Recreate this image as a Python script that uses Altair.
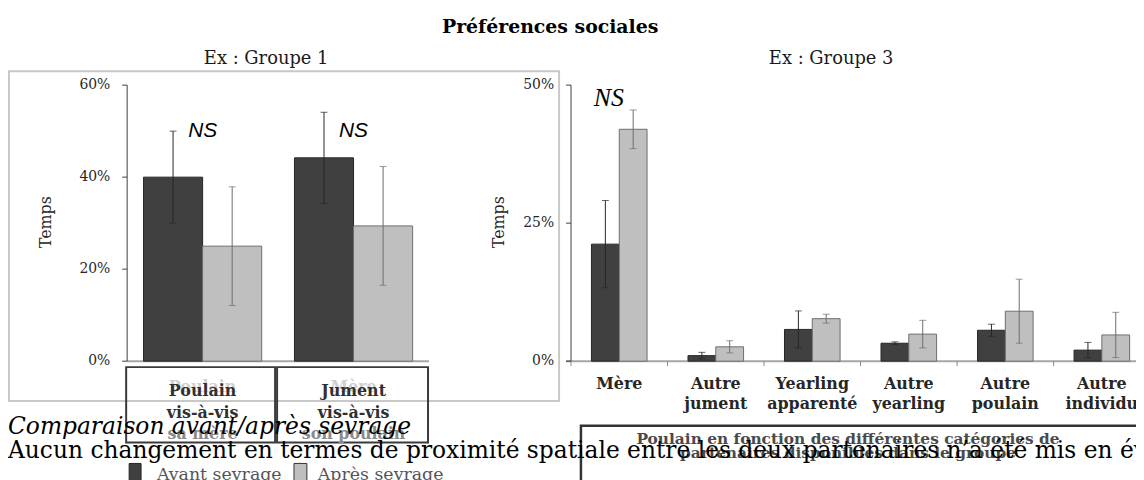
import altair as alt
import pandas as pd

# ---------------- data ----------------
groups = ["Avant sevrage", "Après sevrage"]

left_categories = ["Poulain", "Jument"]
left_avant = [40.0, 44.2]
left_avant_err = [10.0, 9.9]
left_apres = [25.0, 29.4]
left_apres_err = [12.9, 12.9]
left_ticks = [0, 20, 40, 60]
left_box_lines = [["Poulain", "vis-à-vis", "sa mère"], ["Jument", "vis-à-vis", "son poulain"]]
left_ghost = ["Poulain", "Mère"]

right_categories = ["Mère", "Autre jument", "Yearling apparenté", "Autre yearling",
                    "Autre poulain", "Autre individu"]
right_labels = ["Mère", "Autre\njument", "Yearling\napparenté", "Autre\nyearling",
                "Autre\npoulain", "Autre\nindividu"]
right_avant = [21.2, 1.0, 5.75, 3.25, 5.6, 2.0]
right_avant_err = [7.9, 0.6, 3.35, 0.25, 1.1, 1.4]
right_apres = [42.0, 2.6, 7.7, 4.9, 9.05, 4.75]
right_apres_err = [3.5, 1.1, 0.8, 2.5, 5.8, 4.1]
right_ticks = [0, 25, 50]

W, H = 1136, 472
SERIF = "DejaVu Serif"
FILL = ["#404040", "#bfbfbf"]
EDGE = ["#262626", "#6e6e6e"]


def make_df(cats, avant, avant_err, apres, apres_err):
    rows = []
    for i, c in enumerate(cats):
        rows.append(dict(cat=c, grp=groups[0], v=avant[i], err=avant_err[i]))
        rows.append(dict(cat=c, grp=groups[1], v=apres[i], err=apres_err[i]))
    df = pd.DataFrame(rows)
    df["lo"] = df["v"] - df["err"]
    df["hi"] = df["v"] + df["err"]
    return df


def panel(df, cats, xrange, pin, pout, ydom, yrange, ticks, lab_x, tick_x, cap):
    xs = alt.X("cat:N", sort=cats,
               scale=alt.Scale(domain=cats, range=xrange, paddingInner=pin, paddingOuter=pout),
               axis=None)
    xo = alt.XOffset("grp:N", sort=groups,
                     scale=alt.Scale(domain=groups, paddingInner=0, paddingOuter=0))

    def ys(f):
        return alt.Y(f"{f}:Q", scale=alt.Scale(domain=ydom, range=yrange, nice=False, zero=True),
                     axis=None)

    fill = alt.Fill("grp:N", scale=alt.Scale(domain=groups, range=FILL), legend=None)
    stroke = alt.Stroke("grp:N", scale=alt.Scale(domain=groups, range=EDGE), legend=None)
    color = alt.Color("grp:N", scale=alt.Scale(domain=groups, range=EDGE), legend=None)
    base = alt.Chart(df)
    bars = base.mark_bar(strokeWidth=1).encode(x=xs, xOffset=xo, y=ys("v"), fill=fill, stroke=stroke)
    err = base.mark_rule(strokeWidth=1).encode(x=xs, xOffset=xo, y=ys("lo"), y2="hi:Q", stroke=stroke)
    cap_hi = base.mark_tick(thickness=1, size=cap, orient="horizontal").encode(
        x=xs, xOffset=xo, y=ys("hi"), color=color)
    cap_lo = base.mark_tick(thickness=1, size=cap, orient="horizontal").encode(
        x=xs, xOffset=xo, y=ys("lo"), color=color)

    tdf = pd.DataFrame({"t": ticks, "lab": [f"{t}%" for t in ticks]})
    tb = alt.Chart(tdf)
    tlab = tb.mark_text(align="right", baseline="middle", font=SERIF, fontSize=14,
                        color="#262626").encode(y=ys("t"), x=alt.value(lab_x), text="lab:N")
    tmark = tb.mark_rule(color="#404040", strokeWidth=1).encode(
        y=ys("t"), x=alt.value(tick_x - 5), x2=alt.value(tick_x))
    adf = pd.DataFrame({"a": [min(ticks)], "b": [max(ticks)]})
    aline = alt.Chart(adf).mark_rule(color="#404040", strokeWidth=1).encode(
        y=ys("a"), y2="b:Q", x=alt.value(tick_x))
    return alt.layer(bars, err, cap_hi, cap_lo, tlab, tmark, aline), xs


def txt(text, x, y, size, weight="normal", style="normal", color="#000000", font=SERIF,
        align="left", baseline="alphabetic", angle=0):
    kw = dict(font=font, fontSize=size, fontWeight=weight, fontStyle=style, color=color,
              align=align, baseline=baseline)
    if angle:
        kw["angle"] = angle
    return alt.Chart(pd.DataFrame({"t": [text]})).mark_text(**kw).encode(
        x=alt.value(x), y=alt.value(y), text="t:N")


def rect(x, x2, y, y2, stroke, sw, fill=None):
    kw = dict(stroke=stroke, strokeWidth=sw)
    if fill is None:
        kw["fillOpacity"] = 0
        kw["fill"] = "white"
    else:
        kw["fill"] = fill
    return alt.Chart(pd.DataFrame({"k": [0]})).mark_rect(**kw).encode(
        x=alt.value(x), x2=alt.value(x2), y=alt.value(y), y2=alt.value(y2))


def hline(x, x2, y, color, sw):
    return alt.Chart(pd.DataFrame({"k": [0]})).mark_rule(color=color, strokeWidth=sw).encode(
        x=alt.value(x), x2=alt.value(x2), y=alt.value(y))


left_df = make_df(left_categories, left_avant, left_avant_err, left_apres, left_apres_err)
right_df = make_df(right_categories, right_avant, right_avant_err, right_apres, right_apres_err)

left_panel, left_x = panel(left_df, left_categories, [120, 424], 0.217, 0.1085, [0, 60], [354, 76],
                           left_ticks, 103, 120, 7)
right_panel, right_x = panel(right_df, right_categories, [567, 1150.2], 0.424, 0.212, [0, 50],
                             [354, 76], right_ticks, 550, 567, 7)

# category labels / NS through the band scales
left_ns = alt.Chart(pd.DataFrame({"cat": left_categories, "t": ["NS", "NS"]})).mark_text(
    font="Liberation Sans", fontStyle="italic", fontSize=21, baseline="middle", color="#000000"
).encode(x=left_x, y=alt.value(122), text="t:N")

lb = pd.DataFrame({"cat": left_categories, "ghost": left_ghost,
                   "l1": [l[0] for l in left_box_lines],
                   "l2": [l[1] for l in left_box_lines],
                   "l3": [l[2] for l in left_box_lines]})
lbase = alt.Chart(lb)
ghost = lbase.mark_text(font=SERIF, fontWeight="bold", fontSize=16, color="#d0d0d0").encode(
    x=left_x, y=alt.value(380), text="ghost:N")
l1 = lbase.mark_text(font=SERIF, fontWeight="bold", fontSize=16, color="#303030").encode(
    x=left_x, y=alt.value(384), text="l1:N")
l2 = lbase.mark_text(font=SERIF, fontWeight="bold", fontSize=16, color="#303030").encode(
    x=left_x, y=alt.value(406), text="l2:N")
l3 = lbase.mark_text(font=SERIF, fontWeight="bold", fontSize=16, color="#8a8a8a").encode(
    x=left_x, y=alt.value(427), text="l3:N")

rlab = alt.Chart(pd.DataFrame({"cat": right_categories, "lab": right_labels})).mark_text(
    font=SERIF, fontWeight="bold", fontSize=16, color="#262626", lineBreak="\n", lineHeight=20,
    baseline="alphabetic").encode(x=right_x, y=alt.value(382), text="lab:N")

bounds = alt.Chart(pd.DataFrame({"b": list(range(len(right_categories) + 1))})).mark_rule(
    color="#8c8c8c", strokeWidth=1).encode(
    x=alt.X("b:Q", scale=alt.Scale(domain=[0, len(right_categories)], range=[567, 1150.2]),
            axis=None),
    y=alt.value(354), y2=alt.value(359))

layers = [
    rect(1, 555, 62, 394, "#c8c8c8", 2),
    hline(120, 424, 354, "#a6a6a6", 2),
    hline(562, 1136, 354, "#a6a6a6", 2),
    bounds,
    left_panel,
    right_panel,
    left_ns,
    txt("NS", 605, 89, 26, style="italic", font="Liberation Serif", align="center",
        baseline="middle"),
    rlab,
    txt("Préférences sociales", 546, 24, 19, weight="bold", align="center"),
    txt("Ex : Groupe 1", 260, 55, 18, align="center", color="#1a1a1a"),
    txt("Ex : Groupe 3", 829, 55, 18, align="center", color="#1a1a1a"),
    txt("Temps", 38, 214, 16, align="center", baseline="middle", angle=270, color="#262626"),
    txt("Temps", 495, 214, 16, align="center", baseline="middle", angle=270, color="#262626"),
    rect(119, 269, 360, 436, "#3a3a3a", 2),
    rect(271, 423, 360, 436, "#3a3a3a", 2),
    ghost, l1, l2, l3,
    rect(577, 1160, 419, 520, "#333333", 2.5),
    txt("Poulain en fonction des différentes catégories de", 846, 437, 15.5, weight="bold",
        align="center", color="#4a4a4a"),
    txt("partenaires disponibles dans le groupe", 846, 452, 15.5, weight="bold",
        align="center", color="#4a4a4a"),
    rect(122, 134, 457, 480, "#222222", 1, fill="#404040"),
    rect(288, 301, 457, 480, "#333333", 1, fill="#bfbfbf"),
    txt("Avant sevrage", 150, 474, 17.5, color="#555555"),
    txt("Après sevrage", 312, 474, 17.5, color="#555555"),
    txt("Comparaison avant/après sevrage", 0, 427, 23.5, style="italic"),
    txt("Aucun changement en termes de proximité spatiale entre les deux partenaires n\u2019a été mis en év",
        0, 452, 23.5),
]

chart = (
    alt.layer(*layers)
    .resolve_scale(x="independent", y="independent", xOffset="independent",
                   fill="independent", stroke="independent", color="independent")
    .properties(width=W, height=H, padding=0, autosize=alt.AutoSizeParams(type="none"),
                background="white")
    .configure_view(stroke=None)
)

chart.save("out.html", embed_options={"renderer": "svg", "actions": False})
